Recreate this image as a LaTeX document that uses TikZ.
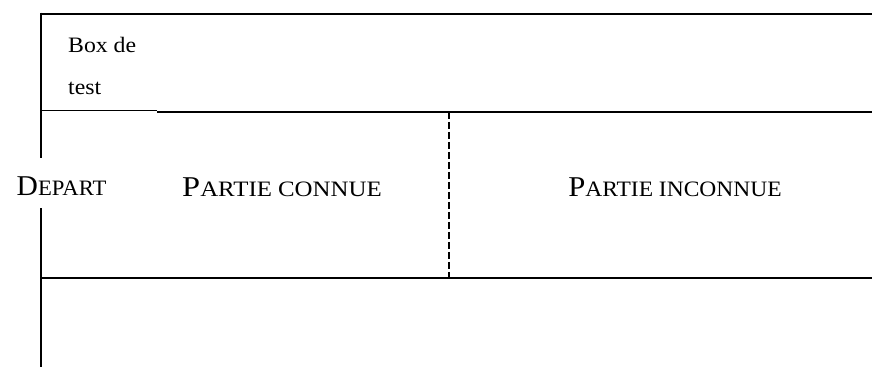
\documentclass[tikz,border=0pt]{standalone}
\usepackage{fontspec}
\setmainfont{Liberation Serif}
\newcommand\fsc[1]{{\fontsize{22}{24}\selectfont #1}}
\newcommand\bigtxt{\fontsize{28.7}{30}\selectfont}
\tikzset{
  rule/.style={line width=1.8pt, black},
  thinrule/.style={line width=1.4pt, black},
  dashrule/.style={line width=1.6pt, black, dash pattern=on 7pt off 3pt},
  lbl/.style={anchor=base, inner sep=0pt, font=\bigtxt},
  boxlbl/.style={anchor=base west, inner sep=0pt, font=\fontsize{22}{24}\selectfont}
}
\begin{document}
\begin{tikzpicture}[x=1pt,y=-1pt]
\useasboundingbox (0,0) rectangle (872,367);
% frame lines
\coordinate (tl) at (41,14);
\coordinate (tr) at (872,14);
\coordinate (bxl) at (41,110.5);
\coordinate (bxr) at (157,110.5);
\coordinate (ml) at (157,111.8);
\coordinate (mr) at (872,111.8);
\coordinate (bl) at (41,278);
\coordinate (br) at (872,278);
\coordinate (vtop) at (41,12.5);
\coordinate (vgap1) at (41,158);
\coordinate (vgap2) at (41,208);
\coordinate (vbot) at (41,367);
\coordinate (dtop) at (449,111.8);
\coordinate (dbot) at (449,278);
\draw[rule] (tl) -- (tr);
\draw[thinrule] (bxl) -- (bxr);
\draw[rule] (ml) -- (mr);
\draw[rule] (bl) -- (br);
\draw[rule] (vtop) -- (vgap1);
\draw[rule] (vgap2) -- (vbot);
\draw[dashrule] (dtop) -- (dbot);
% texts
\node[boxlbl] (boxde) at (68,52.7) {\scalebox{1.08}[1]{Box de}};
\node[boxlbl] (test) at (68,94) {\scalebox{1.08}[1]{test}};
\node[lbl] (depart) at (61.5,195) {\scalebox{1.03}[1]{D\fsc{EPART}}};
\node[lbl] (connue) at (282,196.7) {\scalebox{1.13}[1]{P\fsc{ARTIE CONNUE}}};
\node[lbl] (inconnue) at (675,196.7) {\scalebox{1.068}[1]{P\fsc{ARTIE INCONNUE}}};
\end{tikzpicture}
\end{document}
